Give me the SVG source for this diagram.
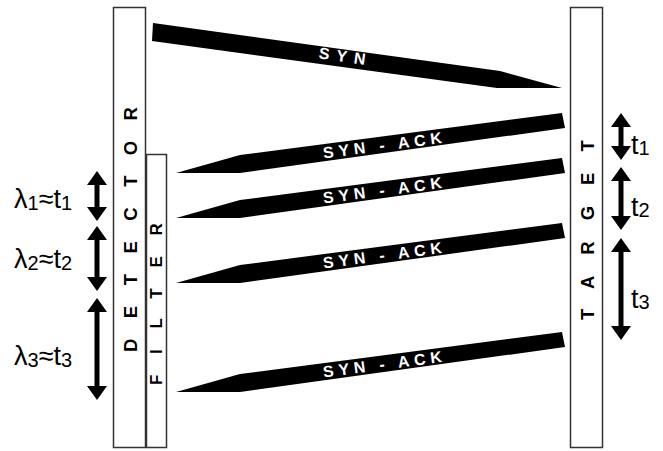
<svg xmlns="http://www.w3.org/2000/svg" width="663" height="451" viewBox="0 0 663 451">
<style>
.box{fill:#fff;stroke:#333;stroke-width:1.5}
.vt{font-family:"Liberation Sans",Arial,sans-serif;font-weight:bold;fill:#000}
.band{fill:#000}
.bt{font-family:"Liberation Sans",Arial,sans-serif;font-weight:bold;font-size:16px;fill:#fff;text-anchor:middle}
.dbl{stroke:#000;stroke-width:5;fill:none;marker-start:url(#ah);marker-end:url(#ah)}
.lab{font-family:"Liberation Sans",Arial,sans-serif;font-size:27px;fill:#000}
.sub{font-size:20px}
</style>
<defs>
<marker id="ah" viewBox="0 0 14 20" refX="4" refY="10" markerWidth="14" markerHeight="20" markerUnits="userSpaceOnUse" orient="auto-start-reverse">
<path d="M0,0 L14,10 L0,20 z" fill="#000"/>
</marker>
</defs>
<rect width="663" height="451" fill="#fff"/>
<g id="detector">
<rect class="box" x="113.5" y="7.5" width="32" height="440"/>
<text class="vt" font-size="18.5" letter-spacing="20.5" transform="translate(136.5,352) rotate(-90)">DETECTOR</text>
</g>
<g id="filter">
<rect class="box" x="146.5" y="154.5" width="20" height="293"/>
<text class="vt" font-size="17" letter-spacing="20.7" transform="translate(162,385) rotate(-90)">FILTER</text>
</g>
<g id="target">
<rect class="box" x="570.5" y="7.5" width="32" height="440"/>
<text class="vt" font-size="18.5" letter-spacing="21" transform="translate(593.5,320) rotate(-90)">TARGET</text>
</g>
<g id="connectors">
<g id="syn">
<polygon class="band" points="153,23 500,71 562,88 497,88 152,41"/>
<text class="bt" letter-spacing="7" transform="translate(345,62) rotate(7.9)">SYN</text>
</g>
<g id="synack1">
<polygon class="band" points="176,173 240,155 562,113 565,128 240,173"/>
<text class="bt" letter-spacing="4.8" transform="translate(385.5,150.5) rotate(-7.5)">SYN - ACK</text>
</g>
<g id="synack2" transform="translate(0,45)">
<polygon class="band" points="176,173 240,155 562,113 565,128 240,173"/>
<text class="bt" letter-spacing="4.8" transform="translate(385.5,150.5) rotate(-7.5)">SYN - ACK</text>
</g>
<g id="synack3" transform="translate(0,110)">
<polygon class="band" points="176,173 240,155 562,113 565,128 240,173"/>
<text class="bt" letter-spacing="4.8" transform="translate(385.5,150.5) rotate(-7.5)">SYN - ACK</text>
</g>
<g id="synack4" transform="translate(0,219)">
<polygon class="band" points="176,173 240,155 562,113 565,128 240,173"/>
<text class="bt" letter-spacing="4.8" transform="translate(385.5,150.5) rotate(-7.5)">SYN - ACK</text>
</g>
</g>
<g id="intervals-left">
<line class="dbl" x1="97" y1="181" x2="97" y2="211"/>
<line class="dbl" x1="97" y1="236" x2="97" y2="281"/>
<line class="dbl" x1="97" y1="308" x2="97" y2="390"/>
<text class="lab" x="14" y="208">λ<tspan class="sub" dy="2">1</tspan><tspan dy="-2">≈t</tspan><tspan class="sub" dy="2">1</tspan></text>
<text class="lab" x="14" y="268">λ<tspan class="sub" dy="2">2</tspan><tspan dy="-2">≈t</tspan><tspan class="sub" dy="2">2</tspan></text>
<text class="lab" x="14" y="365">λ<tspan class="sub" dy="2">3</tspan><tspan dy="-2">≈t</tspan><tspan class="sub" dy="2">3</tspan></text>
</g>
<g id="intervals-right">
<line class="dbl" x1="621" y1="123" x2="621" y2="150"/>
<line class="dbl" x1="621" y1="177" x2="621" y2="220"/>
<line class="dbl" x1="621" y1="248" x2="621" y2="330"/>
<text class="lab" x="631" y="154">t<tspan class="sub" dy="1">1</tspan></text>
<text class="lab" x="631" y="216">t<tspan class="sub" dy="1">2</tspan></text>
<text class="lab" x="631" y="308">t<tspan class="sub" dy="1">3</tspan></text>
</g>
</svg>
